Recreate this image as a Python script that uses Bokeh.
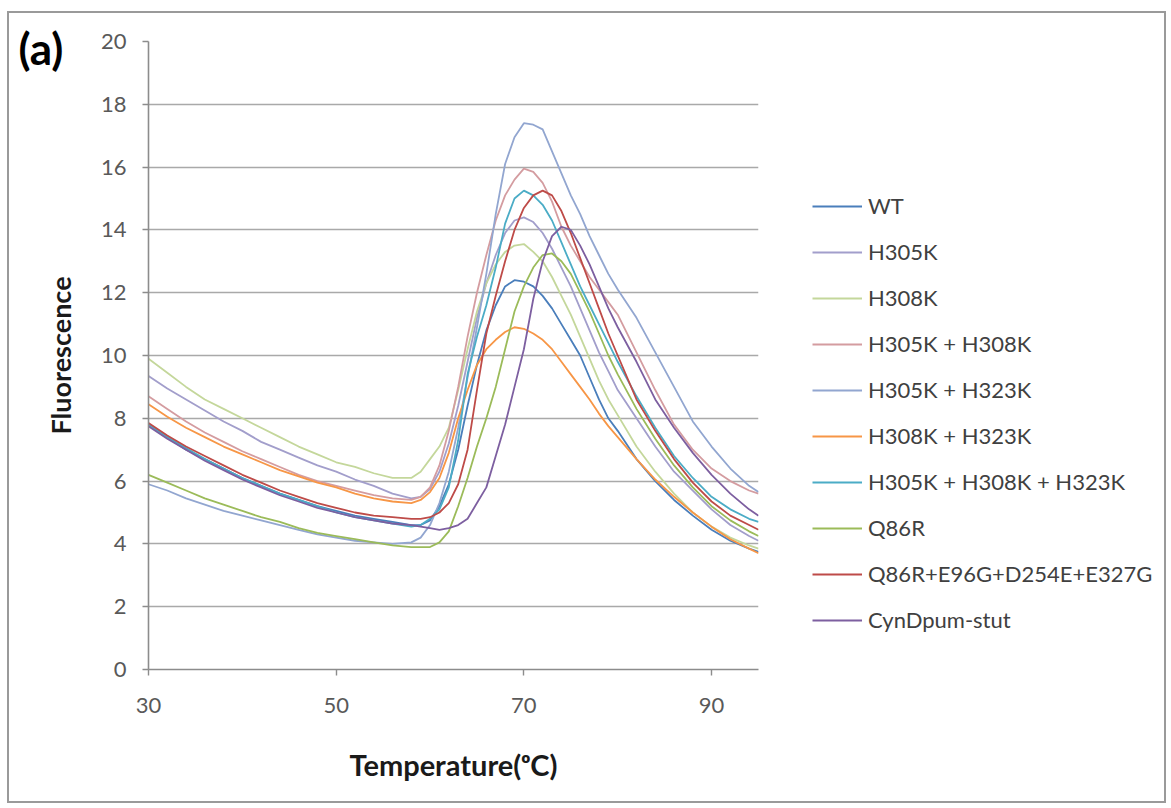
from bokeh.plotting import figure
from bokeh.layouts import row
from bokeh.models import Range1d, Legend, LegendItem, Label, FixedTicker, ColumnDataSource
from bokeh.embed import file_html
from bokeh.resources import INLINE

# ---------------- data ----------------
temperature = [30, 32, 34, 36, 38, 40, 42, 44, 46, 48, 50, 52, 54, 56,
               58, 59, 60, 61, 62, 63, 64, 65, 66, 67, 68, 69, 70, 71, 72, 73, 74, 75, 76, 77, 78, 79, 80,
               82, 84, 86, 88, 90, 92, 94, 95]

wt = [7.8, 7.4, 7.0, 6.7, 6.4, 6.1, 5.85, 5.6, 5.4, 5.2, 5.05, 4.9, 4.8, 4.7,
      4.6, 4.6, 4.75, 5.2, 5.9, 7.0, 8.4, 9.7, 10.8, 11.6, 12.2, 12.4, 12.35, 12.2, 11.9, 11.5, 11.0, 10.5, 10.0, 9.3, 8.6, 8.0, 7.6,
      6.7, 6.0, 5.4, 4.9, 4.45, 4.1, 3.85, 3.75]

h305k = [9.35, 8.95, 8.6, 8.25, 7.9, 7.6, 7.25, 7.0, 6.75, 6.5, 6.3, 6.05, 5.85, 5.6,
         5.45, 5.5, 5.75, 6.3, 7.2, 8.4, 9.8, 11.2, 12.3, 13.2, 13.9, 14.3, 14.4, 14.25, 13.9, 13.4, 12.8, 12.2, 11.5, 10.8, 10.1, 9.5, 8.9,
         8.0, 7.1, 6.3, 5.7, 5.1, 4.6, 4.25, 4.1]

h308k = [9.9, 9.45, 9.0, 8.6, 8.3, 8.0, 7.7, 7.4, 7.1, 6.85, 6.6, 6.45, 6.25, 6.1,
         6.1, 6.3, 6.7, 7.1, 7.7, 8.9, 10.2, 11.4, 12.3, 12.9, 13.3, 13.5, 13.55, 13.3, 13.0, 12.5, 11.9, 11.3, 10.6, 9.9, 9.2, 8.6, 8.1,
         7.1, 6.3, 5.6, 5.0, 4.55, 4.2, 3.95, 3.85]

h305k_h308k = [8.7, 8.3, 7.9, 7.55, 7.25, 6.95, 6.7, 6.45, 6.2, 6.0, 5.85, 5.7, 5.55, 5.45,
               5.4, 5.5, 5.8, 6.5, 7.6, 9.0, 10.6, 12.0, 13.2, 14.3, 15.1, 15.6, 15.95, 15.85, 15.5, 14.9, 14.1, 13.5, 13.0, 12.5, 12.1, 11.7, 11.3,
               10.1, 8.9, 7.8, 7.0, 6.4, 6.0, 5.7, 5.6]

h305k_h323k = [5.9, 5.7, 5.45, 5.25, 5.05, 4.9, 4.75, 4.6, 4.45, 4.3, 4.2, 4.1, 4.05, 4.0,
               4.05, 4.2, 4.6, 5.3, 6.3, 7.7, 9.3, 10.9, 12.6, 14.5, 16.1, 16.95, 17.4, 17.35, 17.2, 16.5, 15.8, 15.1, 14.5, 13.8, 13.2, 12.6, 12.1,
               11.2, 10.1, 9.0, 7.9, 7.1, 6.4, 5.85, 5.65]

h308k_h323k = [8.45, 8.05, 7.7, 7.4, 7.1, 6.85, 6.6, 6.35, 6.15, 5.95, 5.8, 5.6, 5.45, 5.35,
               5.3, 5.4, 5.65, 6.1, 6.9, 8.0, 8.9, 9.7, 10.2, 10.5, 10.75, 10.9, 10.85, 10.7, 10.5, 10.2, 9.8, 9.4, 9.0, 8.6, 8.15, 7.75, 7.4,
               6.7, 6.05, 5.5, 5.0, 4.55, 4.15, 3.85, 3.7]

h305k_h308k_h323k = [7.8, 7.4, 7.05, 6.7, 6.4, 6.1, 5.85, 5.6, 5.4, 5.2, 5.0, 4.85, 4.75, 4.65,
                     4.55, 4.6, 4.8, 5.1, 5.8, 7.3, 9.4, 10.6, 11.6, 12.8, 14.2, 15.0, 15.25, 15.1, 14.8, 14.3, 13.6, 12.9, 12.2, 11.6, 11.0, 10.4, 9.8,
                     8.7, 7.7, 6.8, 6.1, 5.5, 5.1, 4.8, 4.7]

q86r = [6.2, 5.95, 5.7, 5.45, 5.25, 5.05, 4.85, 4.7, 4.5, 4.35, 4.25, 4.15, 4.05, 3.95,
        3.9, 3.9, 3.9, 4.05, 4.4, 5.2, 6.1, 7.1, 8.0, 9.0, 10.2, 11.4, 12.2, 12.8, 13.2, 13.25, 13.0, 12.6, 12.0, 11.4, 10.7, 10.0, 9.4,
        8.3, 7.35, 6.5, 5.8, 5.2, 4.75, 4.4, 4.25]

q86r_multi = [7.85, 7.45, 7.1, 6.8, 6.5, 6.2, 5.95, 5.7, 5.5, 5.3, 5.15, 5.0, 4.9, 4.85,
              4.8, 4.8, 4.85, 5.0, 5.3, 5.9, 7.0, 8.9, 10.7, 11.9, 13.0, 14.0, 14.7, 15.1, 15.25, 15.1, 14.6, 13.9, 13.1, 12.3, 11.5, 10.7, 10.0,
              8.6, 7.6, 6.7, 5.95, 5.35, 4.9, 4.6, 4.45]

cyndpum = [7.75, 7.35, 7.0, 6.65, 6.35, 6.05, 5.8, 5.55, 5.35, 5.15, 5.0, 4.85, 4.75, 4.65,
           4.6, 4.55, 4.5, 4.45, 4.5, 4.6, 4.8, 5.3, 5.8, 6.8, 7.8, 9.0, 10.2, 11.8, 13.0, 13.8, 14.1, 14.0, 13.5, 12.9, 12.2, 11.5, 10.9,
           9.8, 8.6, 7.7, 6.9, 6.2, 5.6, 5.1, 4.9]

series_names = ["WT", "H305K", "H308K", "H305K + H308K", "H305K + H323K", "H308K + H323K",
                "H305K + H308K + H323K", "Q86R", "Q86R+E96G+D254E+E327G", "CynDpum-stut"]
series_values = [wt, h305k, h308k, h305k_h308k, h305k_h323k, h308k_h323k,
                 h305k_h308k_h323k, q86r, q86r_multi, cyndpum]
series_colors = ["#4a7ebb", "#a29ecb", "#c4d79b", "#d49ca0", "#92a6d0", "#f79646",
                 "#4bacc6", "#9bbb59", "#be4b48", "#7d5fa0"]

x_ticks = [30, 50, 70, 90]
y_ticks = [0, 2, 4, 6, 8, 10, 12, 14, 16, 18, 20]

# ---------------- main chart ----------------
# the whole layout sits inside a 2px grey frame; its canvas starts at page (9, 13)
p = figure(width=803, height=788, x_range=Range1d(30, 95), y_range=Range1d(0, 20),
           output_backend="svg", toolbar_location=None,
           min_border_left=139, min_border_right=54, min_border_top=28, min_border_bottom=132)
p.outline_line_color = None
p.background_fill_color = "white"
p.border_fill_color = "white"
p.xgrid.visible = False
p.ygrid.grid_line_color = "#a9a9a9"
p.ygrid.grid_line_width = 1.6

p.xaxis.ticker = FixedTicker(ticks=x_ticks)
p.yaxis.ticker = FixedTicker(ticks=y_ticks)
for ax in (p.xaxis[0], p.yaxis[0]):
    ax.axis_line_color = "#8c8c8c"
    ax.axis_line_width = 1.6
    ax.major_tick_line_color = "#8c8c8c"
    ax.major_tick_line_width = 1.4
    ax.major_tick_out = 6
    ax.major_tick_in = 0
    ax.minor_tick_line_color = None
    ax.major_label_text_font = "Lato"
    ax.major_label_text_font_size = "22px"
    ax.major_label_text_color = "#595959"
    ax.axis_label_text_font = "Lato"
    ax.axis_label_text_font_style = "bold"
    ax.axis_label_text_color = "#1a1a1a"
p.xaxis.axis_label_text_font_size = "29px"
p.yaxis.axis_label_text_font_size = "27px"

p.xaxis.axis_label = "Temperature(ᵒC)"
p.yaxis.axis_label = "Fluorescence"
p.xaxis.major_label_standoff = 22
p.xaxis.axis_label_standoff = 31
p.yaxis.major_label_standoff = 16
p.yaxis.axis_label_standoff = 21

for name, vals, col in zip(series_names, series_values, series_colors):
    src = ColumnDataSource(data=dict(t=temperature, f=vals))
    p.line("t", "f", source=src, line_color=col, line_width=1.8)

# panel tag "(a)" (kept in a side panel so it is not clipped by the plot frame)
panel_label = Label(x=-740, y=622, x_units="screen", y_units="screen", text="(a)",
                    text_font="Lato", text_font_size="44px", text_font_style="bold",
                    text_color="black", text_baseline="middle")
p.add_layout(panel_label, "right")

# ---------------- legend panel ----------------
q = figure(width=352, height=788, x_range=Range1d(0, 1), y_range=Range1d(0, 1),
           output_backend="svg", toolbar_location=None,
           x_axis_location=None, y_axis_location=None,
           min_border_left=0, min_border_right=0, min_border_top=0, min_border_bottom=0)
q.outline_line_color = None
q.xgrid.visible = False
q.ygrid.visible = False
q.background_fill_color = "white"
q.border_fill_color = "white"

items = []
for name, vals, col in zip(series_names, series_values, series_colors):
    # same series, drawn outside this panel's view: only its legend key shows
    key_src = ColumnDataSource(data=dict(t=temperature, f=vals))
    key = q.line("t", "f", source=key_src, line_color=col, line_width=2)
    items.append(LegendItem(label=name, renderers=[key]))

legend = Legend(items=items, location=(0, 36), glyph_width=50, glyph_height=24,
                label_height=24, spacing=19, padding=0, margin=0, label_standoff=6,
                border_line_color=None, background_fill_alpha=0,
                label_text_font="Lato", label_text_font_size="22px", label_text_color="#404040")
q.add_layout(legend)

layout = row(p, q, styles={"border": "2px solid #9a9a9a", "margin-left": "7px", "margin-top": "11px"})

open("out.html", "w").write(file_html(layout, INLINE))
